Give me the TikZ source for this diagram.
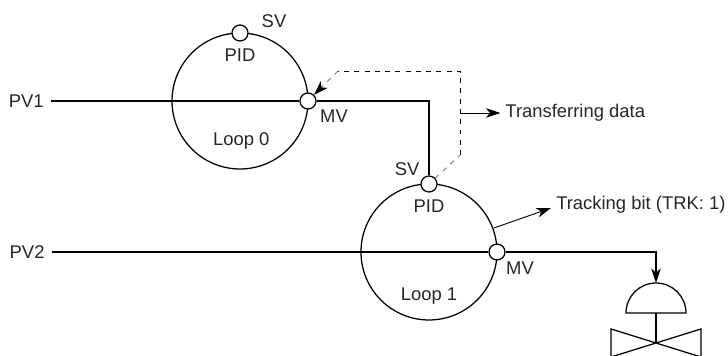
\documentclass[tikz,border=0pt]{standalone}
\usepackage{fontspec}
\setmainfont{Liberation Sans}
\usetikzlibrary{arrows.meta}
\tikzset{
	lbl/.style={font=\fontsize{13.1}{15}\selectfont,text=black!85,inner sep=0pt},
	loopc/.style={draw,circle,line width=0.9pt,minimum size=3.4cm,inner sep=0pt},
	port/.style={draw,circle,fill=white,line width=0.9pt,minimum size=0.4cm,inner sep=0pt},
	signal/.style={line width=1.5pt},
	tiphead/.style={-{Stealth[length=0.36cm,width=0.24cm,inset=0.1cm]}},
	xfer/.style={line width=0.65pt,dash pattern=on 3.5pt off 3.8pt},
}
\begin{document}
\begin{tikzpicture}

	\useasboundingbox (0,0) rectangle (18.2,8.9);

	% loop 0
	\node[loopc] (loop0) at (6,6.375) {};
	\node[port] (sv0) at (6,8.075) {};
	\node[port] (mv0) at (7.7,6.375) {};
	\node[lbl] (svlbl0) at (6.85,8.375) {SV};
	\node[lbl] (pid0) at (6,7.525) {PID};
	\node[lbl] (mvlbl0) at (8.35,6) {MV};
	\node[lbl] (name0) at (6.03,5.375) {Loop 0};
	\node[lbl,anchor=east] (pv1) at (1.1,6.375) {PV1};

	% loop 1
	\node[loopc] (loop1) at (10.725,2.6) {};
	\node[port] (sv1) at (10.725,4.3) {};
	\node[port] (mv1) at (12.425,2.6) {};
	\node[lbl] (svlbl1) at (10.18,4.675) {SV};
	\node[lbl] (pid1) at (10.725,3.75) {PID};
	\node[lbl] (mvlbl1) at (13,2.2) {MV};
	\node[lbl] (name1) at (10.725,1.5) {Loop 1};
	\node[lbl,anchor=east] (pv2) at (1.12,2.6) {PV2};

	% signals
	\draw[signal,shorten <=0.17cm] (pv1) -- (mv0);
	\draw[signal] (mv0) -| (sv1);
	\draw[signal,shorten <=0.17cm] (pv2) -- (mv1);

	% valve
	\coordinate (domec) at (16.4,1.075);
	\coordinate (domet) at (16.4,1.825);
	\coordinate (valvec) at (16.4,0.325);
	\draw[line width=0.9pt] (15.65,1.075) arc (180:0:0.75cm) -- cycle;
	\draw[line width=0.9pt] (domec) -- (valvec);
	\draw[line width=0.9pt]
		(15.275,0.675) -- (17.525,-0.025) -- (17.525,0.675) -- (15.275,-0.025) -- cycle;
	\draw[signal,tiphead] (mv1) -| (domet);

	% transferring data
	\coordinate (xfera) at (11.5,5.025);
	\coordinate (xferb) at (11.5,7.125);
	\coordinate (xferc) at (8.45,7.125);
	\coordinate (xferj) at (11.5,6.075);
	\draw[xfer,gray] (sv1) -- (xfera);
	\draw[xfer] (xfera) -- (xferb) -- (xferc);
	\draw[xfer,gray] (xferc) -- (8.0,6.68);
	\draw[tiphead] (8.0,6.68) -- (mv0);
	\node[lbl,anchor=west] (xferlbl) at (12.63,6.075) {Transferring data};
	\draw[line width=0.65pt,tiphead,shorten >=0.12cm] (xferj) -- (xferlbl);

	% tracking bit
	\node[lbl,anchor=west] (trklbl) at (13.9,3.775) {Tracking bit (TRK: 1)};
	\coordinate (trkfrom) at (12.35,3.2);
	\coordinate (trkto) at (13.775,3.7);
	\draw[line width=0.65pt,tiphead] (trkfrom) -- (trkto);

\end{tikzpicture}
\end{document}
